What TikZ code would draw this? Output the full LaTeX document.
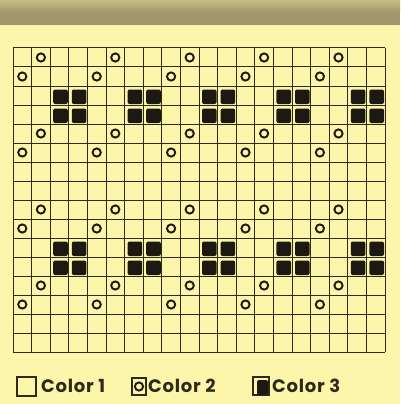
\documentclass[tikz,border=0pt]{standalone}
\usepackage{fontspec}
\setmainfont{Poppins}
\definecolor{bg}{HTML}{FBF6A9}
\definecolor{bandtop}{HTML}{C7BC86}
\definecolor{band}{HTML}{A2966C}
\definecolor{ink}{HTML}{2E2A1A}
\definecolor{blk}{HTML}{1C1812}
\tikzset{
  gridline/.style={draw=ink, line width=1pt},
  ring/.style={draw=blk, line width=1.9pt},
  block/.style={fill=blk, rounded corners=2pt},
  legendbox/.style={draw=ink, line width=1.1pt},
  legendtext/.style={anchor=base west, inner sep=0pt, text=ink,
    font=\fontsize{18}{20}\selectfont\bfseries\addfontfeature{LetterSpace=4}}
}
\begin{document}
\begin{tikzpicture}[x=1pt,y=-1pt]
\useasboundingbox (0,0) rectangle (400,404);
\fill[bg] (0,0) rectangle (400,404);
\shade[top color=bandtop, bottom color=band] (0,0) rectangle (400,12);
\fill[band] (0,12) rectangle (400,25);
% grid
\foreach \i in {0,...,20} \draw[gridline] ({13+\i*18.6},48) -- ({13+\i*18.6},352);
\foreach \j in {0,...,16} \draw[gridline] (13,{48+\j*19}) -- (385,{48+\j*19});
% circles: rows 1,5,9,13 at cols 2,6,10,14,18 ; rows 2,6,10,14 at cols 1,5,9,13,17
\foreach \r in {1,5,9,13}{
  \foreach \c in {2,6,10,14,18}{
    \draw[ring] ({13+(\c-0.5)*18.6},{48+(\r-0.5)*19}) circle (4.1);
  }
}
\foreach \r in {2,6,10,14}{
  \foreach \c in {1,5,9,13,17}{
    \draw[ring] ({13+(\c-0.5)*18.6},{48+(\r-0.5)*19}) circle (4.1);
  }
}
% blocks
\foreach \r in {3,4,11,12}{
  \foreach \c in {3,4,7,8,11,12,15,16,19,20}{
    \fill[block] ({13+(\c-1)*18.6+3},{48+(\r-1)*19+3.5}) rectangle ({13+(\c-1)*18.6+17.6},{48+(\r-1)*19+18});
  }
}
% legend
\draw[legendbox] (17,377) rectangle (36,396);
\node[legendtext] (t1) at (41,392) {Color 1};
\draw[legendbox] (132,378) rectangle (146,395);
\draw[ring] (139,386.5) circle (4.1);
\node[legendtext] (t2) at (148,392) {Color 2};
\draw[legendbox] (253,377) rectangle (269,395);
\fill[block] (257,380) rectangle (268,395);
\node[legendtext] (t3) at (272,392) {Color 3};
\end{tikzpicture}
\end{document}
